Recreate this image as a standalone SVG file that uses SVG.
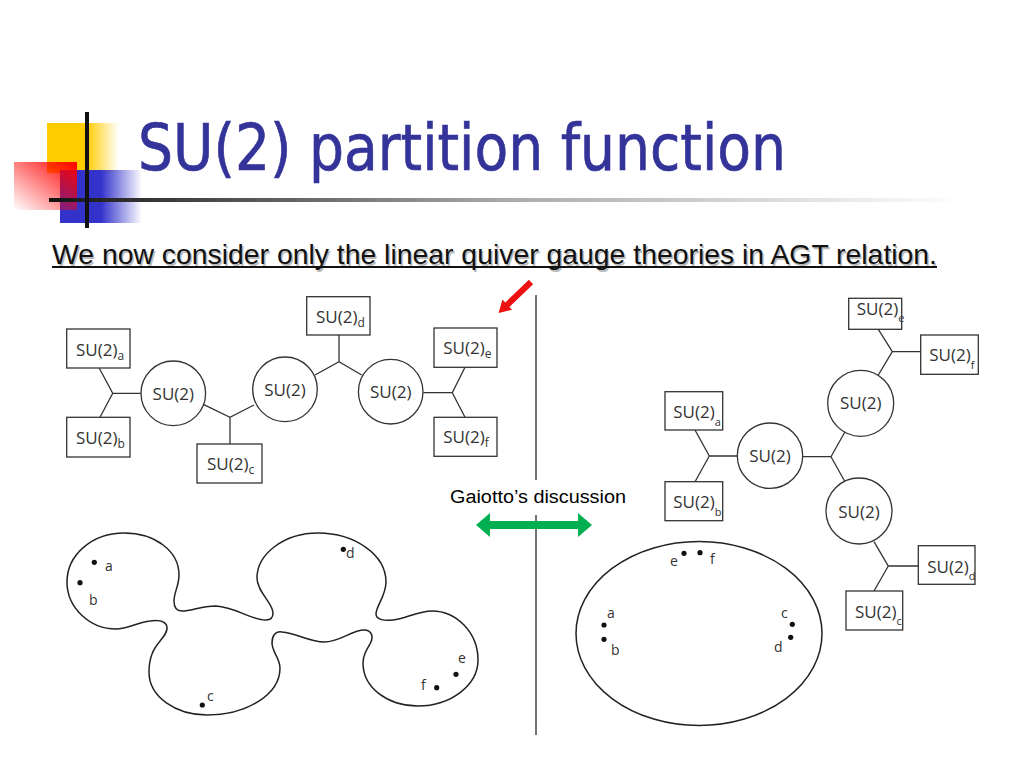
<svg xmlns="http://www.w3.org/2000/svg" width="1024" height="768" viewBox="0 0 1024 768">
<defs>
<linearGradient id="gY" x1="0" y1="0" x2="1" y2="0"><stop offset="0" stop-color="#FFCC00"/><stop offset="0.55" stop-color="#FFCC00"/><stop offset="1" stop-color="#FFCC00" stop-opacity="0"/></linearGradient>
<linearGradient id="gB" x1="0" y1="0" x2="1" y2="0"><stop offset="0" stop-color="#3333CC"/><stop offset="0.5" stop-color="#3333CC"/><stop offset="1" stop-color="#3333CC" stop-opacity="0"/></linearGradient>
<linearGradient id="gR" x1="1" y1="0" x2="0" y2="1"><stop offset="0" stop-color="#FF0000"/><stop offset="1" stop-color="#FF0000" stop-opacity="0"/></linearGradient>
<linearGradient id="gL" gradientUnits="userSpaceOnUse" x1="49" y1="0" x2="965" y2="0"><stop offset="0" stop-color="#111"/><stop offset="0.1" stop-color="#333"/><stop offset="0.5" stop-color="#aaa"/><stop offset="1" stop-color="#fff"/></linearGradient>
</defs>
<style>
.ln{stroke:#333;stroke-width:1.3;fill:none}
.bx{stroke:#333;stroke-width:1.3;fill:#fff}
.t{font-family:"Open Sans","DejaVu Sans",sans-serif;font-size:17px;fill:#333}
.s{font-size:12px}
.s2{font-size:11px}
.lb{font-family:"Open Sans","DejaVu Sans",sans-serif;font-size:14px;fill:#333}
.sf{stroke:#222;stroke-width:1.5;fill:none}
.dot{fill:#111}
</style>
<rect width="1024" height="768" fill="#fff"/>
<g id="decor">
<rect x="47" y="123" width="72" height="50" fill="url(#gY)"/>
<rect x="60" y="170" width="82" height="53" fill="url(#gB)"/>
<rect x="14" y="162" width="63" height="48" fill="url(#gR)"/>
<rect x="49" y="198" width="916" height="4" fill="url(#gL)"/>
<rect x="85" y="112" width="4" height="116" fill="#111"/>
</g>
<g id="title"><text x="138" y="170" font-family="DejaVu Sans,sans-serif" font-size="64" fill="#333399" stroke="#333399" stroke-width="0.7" textLength="648" lengthAdjust="spacingAndGlyphs">SU(2) partition function</text></g>
<g id="subtitle">
<text x="53.5" y="265.5" font-family="Liberation Sans,Arial,sans-serif" font-size="28" fill="#bbb" textLength="885" lengthAdjust="spacingAndGlyphs">We now consider only the linear quiver gauge theories in AGT relation.</text>
<text x="52" y="264" font-family="Liberation Sans,Arial,sans-serif" font-size="28" fill="#111" textLength="885" lengthAdjust="spacingAndGlyphs">We now consider only the linear quiver gauge theories in AGT relation.</text>
<rect x="52" y="266" width="885" height="2" fill="#111"/>
</g>
<g id="connectors">
<path class="ln" d="M99.3,368.3 L112.7,393.3 L100,417.3 M112.7,393.3 L141,393.3"/>
<path class="ln" d="M203.3,404.3 L230,417.3 L254,405 M230,417.3 L230,444"/>
<path class="ln" d="M315,375 L339,361.7 L361.7,375 M339,361.7 L339,335"/>
<path class="ln" d="M423.3,392.7 L452.3,392.7 M465,367.3 L452.3,392.7 L465,417.3"/>
<path class="ln" d="M695,430 L709.3,456 L695,481.7 M709.3,456 L737.3,456"/>
<path class="ln" d="M802.7,456.7 L831,456.7 L845,431.7 M831,456.7 L845,481.7"/>
<path class="ln" d="M878.3,329.3 L892.3,351.7 L920.7,351.7 M892.3,351.7 L878.3,375"/>
<path class="ln" d="M874,541.7 L888.3,566 L918.3,566 M888.3,566 L874,591"/>
<path d="M536,295 L536,480 M536,515 L536,735" stroke="#444" stroke-width="1.5"/>
<polygon points="528.9,279.8 533.1,284.2 509.4,306.9 512.1,309.8 498.5,313 502.5,299.6 505.2,302.5" fill="#EE1111"/>
<polygon points="476,525 490,513 490,521 578,521 578,513 592,525 578,537 578,529 490,529 490,537" fill="#00B050"/>
<text x="450" y="503" font-family="Liberation Sans,Arial,sans-serif" font-size="18" fill="#000" textLength="176" lengthAdjust="spacingAndGlyphs">Gaiotto’s discussion</text>
</g>
<g id="L_a"><rect class="bx" x="66.7" y="329" width="63.3" height="39"/><text class="t" x="76" y="356">SU(2)<tspan class="s" dy="4">a</tspan></text></g>
<g id="L_b"><rect class="bx" x="66.7" y="417.3" width="63.3" height="39.7"/><text class="t" x="76" y="444">SU(2)<tspan class="s" dy="4">b</tspan></text></g>
<g id="L_c"><rect class="bx" x="197" y="444" width="65" height="39"/><text class="t" x="207" y="470">SU(2)<tspan class="s" dy="4">c</tspan></text></g>
<g id="L_d"><rect class="bx" x="306.7" y="296.7" width="63.3" height="38.3"/><text class="t" x="316" y="323">SU(2)<tspan class="s" dy="4">d</tspan></text></g>
<g id="L_e"><rect class="bx" x="434" y="328" width="63" height="39.3"/><text class="t" x="443.3" y="353.5">SU(2)<tspan class="s" dy="4">e</tspan></text></g>
<g id="L_f"><rect class="bx" x="434" y="417.3" width="63" height="39"/><text class="t" x="443.3" y="443">SU(2)<tspan class="s" dy="4">f</tspan></text></g>
<g id="L_g1"><circle class="bx" cx="173.3" cy="393.3" r="32.3"/><text class="t" x="173.3" y="400" text-anchor="middle">SU(2)</text></g>
<g id="L_g2"><circle class="bx" cx="285" cy="389.3" r="32.3"/><text class="t" x="285" y="396" text-anchor="middle">SU(2)</text></g>
<g id="L_g3"><circle class="bx" cx="390.7" cy="391.7" r="32.3"/><text class="t" x="390.7" y="398" text-anchor="middle">SU(2)</text></g>
<g id="R_e"><rect class="bx" x="848.7" y="298.3" width="53" height="31"/><text class="t" x="856.7" y="315">SU(2)<tspan class="s2" dy="7">e</tspan></text></g>
<g id="R_f"><rect class="bx" x="920.7" y="335" width="57.6" height="39.3"/><text class="t" x="929.3" y="360.7">SU(2)<tspan class="s2" dy="8.5">f</tspan></text></g>
<g id="R_a"><rect class="bx" x="665" y="391.7" width="57.7" height="38.3"/><text class="t" x="673.3" y="418.3">SU(2)<tspan class="s2" dy="8">a</tspan></text></g>
<g id="R_b"><rect class="bx" x="665" y="481.7" width="57.7" height="39"/><text class="t" x="673.3" y="508.3">SU(2)<tspan class="s2" dy="8">b</tspan></text></g>
<g id="R_d"><rect class="bx" x="918.3" y="545.7" width="56.7" height="38.6"/><text class="t" x="927.3" y="572.7">SU(2)<tspan class="s2" dy="7">d</tspan></text></g>
<g id="R_c"><rect class="bx" x="846" y="591" width="56.7" height="39"/><text class="t" x="855" y="618.3">SU(2)<tspan class="s2" dy="7">c</tspan></text></g>
<g id="R_g1"><circle class="bx" cx="860.7" cy="403.3" r="33"/><text class="t" x="860.7" y="409.3" text-anchor="middle">SU(2)</text></g>
<g id="R_g2"><circle class="bx" cx="770" cy="455.7" r="32.7"/><text class="t" x="770" y="461.5" text-anchor="middle">SU(2)</text></g>
<g id="R_g3"><circle class="bx" cx="859" cy="511" r="33"/><text class="t" x="859" y="517.5" text-anchor="middle">SU(2)</text></g>
<g id="surface_left">
<path class="sf" d="M116,629 C128,629 138,622 150,621 C158,620 166,621 167,627 C168,636 156,642 152,654 C149,662 149,668 149,672 C149,697 176,715 207,715 C246,715 280,695 280,668 C280,658 272,652 272,643 C272,636 275,631 282,632 C296,633 310,642 324,642 C340,642 352,630 364,630 C372,630 374,637 370,644 C366,651 363,656 363,663 C363,688 388,706 418,706 C451,706 478,685 478,660 C478,632 456,611 432,611 C418,611 405,619 393,620 C385,621 376,620 376,614 C376,606 386,596 386,582 C386,555 355,533 318,533 C284,533 257,554 257,578 C257,592 273,603 273,613 C273,618 270,620 266,620 C250,620 236,607 216,606 C200,606 192,611 182,611 C176,611 174,606 174,601 C174,592 179,586 179,575 C179,551 155,533 124,533 C92,533 67,555 67,582 C67,608 90,629 116,629 Z"/>
<circle class="dot" cx="94.3" cy="562.3" r="2.6"/><text class="lb" x="105" y="571">a</text>
<circle class="dot" cx="80" cy="582.7" r="2.6"/><text class="lb" x="89" y="605">b</text>
<circle class="dot" cx="343.3" cy="549.3" r="2.6"/><text class="lb" x="346" y="558">d</text>
<circle class="dot" cx="202.3" cy="705" r="2.6"/><text class="lb" x="207" y="701">c</text>
<circle class="dot" cx="456" cy="674.3" r="2.6"/><text class="lb" x="458" y="663">e</text>
<circle class="dot" cx="436.7" cy="687.7" r="2.6"/><text class="lb" x="421" y="690">f</text>
</g>
<g id="surface_right">
<ellipse class="sf" cx="699" cy="633.5" rx="123" ry="92"/>
<circle class="dot" cx="684" cy="553.3" r="2.6"/><text class="lb" x="670" y="566">e</text>
<circle class="dot" cx="700" cy="552.7" r="2.6"/><text class="lb" x="710" y="564">f</text>
<circle class="dot" cx="604" cy="625" r="2.6"/><text class="lb" x="607" y="618">a</text>
<circle class="dot" cx="604" cy="639.3" r="2.6"/><text class="lb" x="611" y="655">b</text>
<circle class="dot" cx="792.3" cy="624.3" r="2.6"/><text class="lb" x="781" y="618">c</text>
<circle class="dot" cx="790.7" cy="637.3" r="2.6"/><text class="lb" x="774" y="652">d</text>
</g>
</svg>
